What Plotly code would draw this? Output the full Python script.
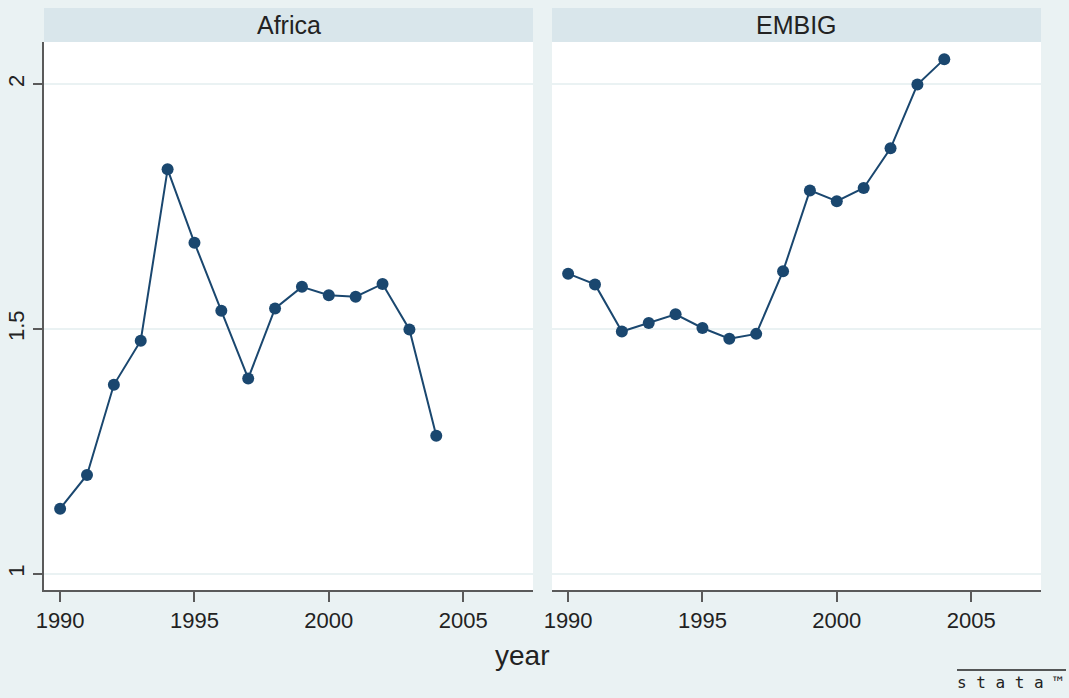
import plotly.graph_objects as go

# Annual values by group
years = list(range(1990, 2005))
africa = [1.133, 1.202, 1.386, 1.476, 1.826, 1.676, 1.537, 1.399,
          1.542, 1.586, 1.569, 1.566, 1.592, 1.499, 1.282]
embig = [1.613, 1.591, 1.495, 1.512, 1.530, 1.502, 1.480, 1.490,
         1.618, 1.783, 1.761, 1.788, 1.869, 1.999, 2.051]
panels = ["Africa", "EMBIG"]
x_ticks = [1990, 1995, 2000, 2005]
y_ticks = [1, 1.5, 2]
y_tick_text = ["1", "1.5", "2"]

NAVY = "#1A476F"
BG = "#EAF2F3"
STRIP = "#D9E6EB"
AXIS = "#5A5A5A"
TEXT = "#222222"
FONT = "Liberation Sans, Arial, sans-serif"

W, H = 1069, 698
ML, MR, MT, MB = 44, 28, 42, 108
plot_w = W - ML - MR
plot_h = H - MT - MB

fig = go.Figure()
for i, (name, vals) in enumerate(zip(panels, [africa, embig])):
    fig.add_trace(go.Scatter(
        x=years, y=vals, mode="lines+markers", name=name,
        xaxis="x" if i == 0 else "x2", yaxis="y" if i == 0 else "y2",
        line=dict(color=NAVY, width=2),
        marker=dict(color=NAVY, size=12, symbol="circle"),
        showlegend=False, hoverinfo="x+y",
    ))

dom_left = [0, 489 / plot_w]
dom_right = [508 / plot_w, 1]

xcommon = dict(range=[1989.4, 2007.6], tickvals=x_ticks, showgrid=False,
               zeroline=False, showline=True, linecolor=AXIS, linewidth=1.5,
               ticks="outside", ticklen=10, tickcolor=AXIS, tickwidth=1.5,
               automargin=False,
               tickfont=dict(family=FONT, size=22, color=TEXT))
ycommon = dict(range=[0.967, 2.086], tickvals=y_ticks, ticktext=y_tick_text,
               showgrid=True, gridcolor=BG, gridwidth=2, zeroline=False,
               automargin=False)

fig.update_layout(
    width=W, height=H,
    margin=dict(l=ML, r=MR, t=MT, b=MB),
    paper_bgcolor=BG, plot_bgcolor="white",
    xaxis=dict(domain=dom_left, anchor="y", **xcommon),
    xaxis2=dict(domain=dom_right, anchor="y2", **xcommon),
    yaxis=dict(domain=[0, 1], anchor="x", showline=True, linecolor=AXIS,
               linewidth=1.5, ticks="outside", ticklen=9, tickcolor=AXIS,
               tickwidth=1.5, tickangle=-90,
               tickfont=dict(family=FONT, size=22, color=TEXT),
               **ycommon),
    yaxis2=dict(domain=[0, 1], anchor="x2", showline=False,
                showticklabels=False, ticks="", **ycommon),
)

# Strip headers above each panel
strip_h = 34 / plot_h
for name, dom in zip(panels, [dom_left, dom_right]):
    fig.add_shape(type="rect", xref="paper", yref="paper",
                  x0=dom[0], x1=dom[1], y0=1, y1=1 + strip_h,
                  fillcolor=STRIP, line=dict(width=0), layer="below")
    fig.add_annotation(text=name, xref="paper", yref="paper",
                       x=(dom[0] + dom[1]) / 2, y=1 + strip_h / 2,
                       xanchor="center", yanchor="middle", showarrow=False,
                       font=dict(family=FONT, size=25, color=TEXT))

# Shared x-axis title
fig.add_annotation(text="year", xref="paper", yref="paper",
                   x=(522 - ML) / plot_w, y=-(655 - (MT + plot_h)) / plot_h,
                   xanchor="center", yanchor="middle", showarrow=False,
                   font=dict(family=FONT, size=28, color=TEXT))

# Stata mark in the corner
line_y = -(670 - (MT + plot_h)) / plot_h
fig.add_shape(type="line", xref="paper", yref="paper",
              x0=(957 - ML) / plot_w, x1=(1066 - ML) / plot_w,
              y0=line_y, y1=line_y,
              line=dict(color=TEXT, width=1.5))
fig.add_annotation(text="s t a t a ™", xref="paper", yref="paper",
                   x=(1010 - ML) / plot_w, y=-(682 - (MT + plot_h)) / plot_h,
                   xanchor="center", yanchor="middle", showarrow=False,
                   font=dict(family="DejaVu Sans Mono, monospace", size=16,
                             color=TEXT))

fig.write_html("out.html")
